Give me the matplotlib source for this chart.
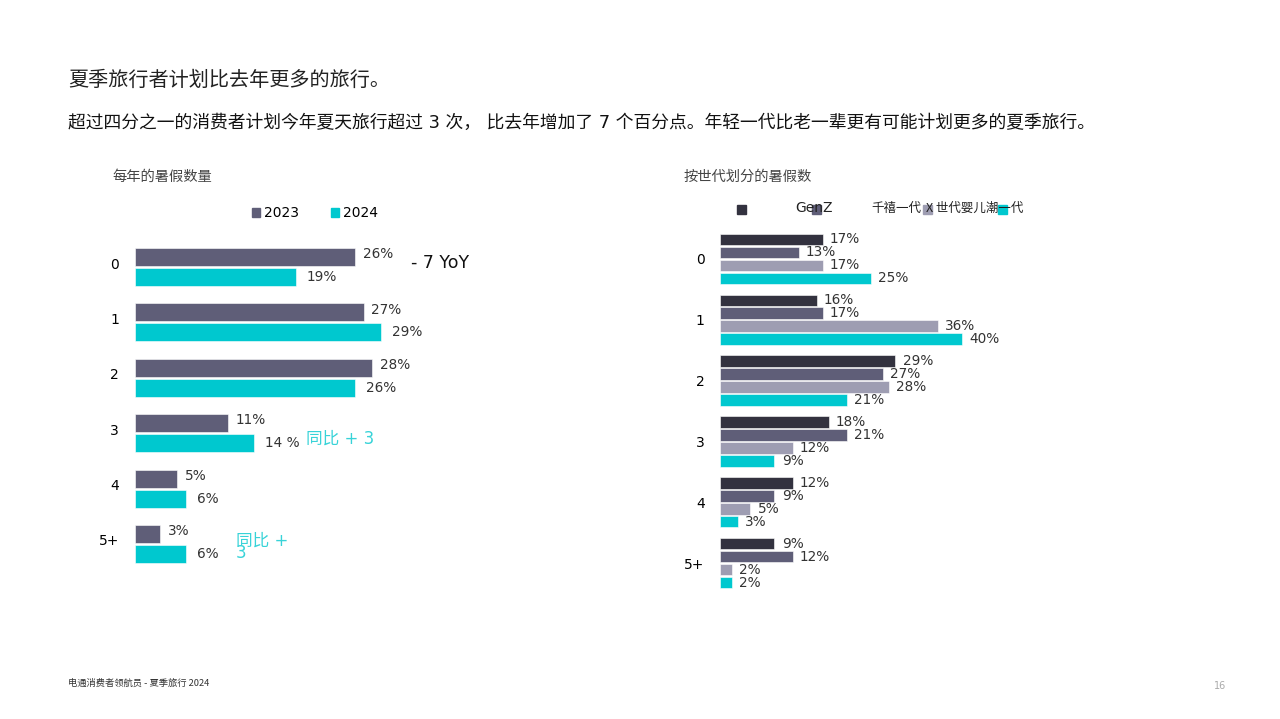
import matplotlib.pyplot as plt
from matplotlib.patches import Patch, Rectangle
from matplotlib.transforms import ScaledTranslation

plt.rcParams['font.family'] = ['DejaVu Sans', 'Noto Sans CJK SC']

# left chart: trips per year
cats = ['0', '1', '2', '3', '4', '5+']
y2023 = [26, 27, 28, 11, 5, 3]
y2024 = [19, 29, 26, 14, 6, 6]
lbl2023 = ['26%', '27%', '28%', '11%', '5%', '3%']
lbl2024 = ['19%', '29%', '26%', '14 %', '6%', '6%']

# right chart: by generation
gen_names = ['GenZ', '千禧一代', 'X 世代', '婴儿潮一代']
genz = [17, 16, 29, 18, 12, 9]
millennial = [13, 17, 27, 21, 9, 12]
genx = [17, 36, 28, 12, 5, 2]
boomer = [25, 40, 21, 9, 3, 2]

c_dark = '#33323f'
c_mid = '#5f5e78'
c_light = '#9e9db2'
c_cyan = '#00c8cf'
txt = '#333333'
cjk = ['Noto Sans CJK SC', 'DejaVu Sans']

W, H = 1280, 719
fig = plt.figure(figsize=(12.8, 7.19), dpi=100)


def fx(px):
    return px / W


def fy(py):
    return 1 - py / H


# headers
fig.text(fx(68), fy(80), '夏季旅行者计划比去年更多的旅行。', fontsize=14.5,
         color='#222222', va='center', family=cjk)
fig.text(fx(68), fy(123), '超过四分之一的消费者计划今年夏天旅行超过 3 次， 比去年增加了 7 个百分点。'
         '年轻一代比老一辈更有可能计划更多的夏季旅行。', fontsize=12.8, color='#111111',
         va='center')
fig.text(fx(112), fy(177), '每年的暑假数量', fontsize=10.3, color='#444444', va='center',
         family=cjk)
fig.text(fx(684), fy(177), '按世代划分的暑假数', fontsize=10.3, color='#444444', va='center',
         family=cjk)
fig.text(fx(68), fy(683), '电通消费者领航员 - 夏季旅行 2024', fontsize=6.7, color='#333333',
         va='center', family=cjk)
fig.text(fx(1226), fy(686), '16', fontsize=7, color='#aaaaaa', va='center', ha='right')

# ---- left chart
ax1 = fig.add_axes([fx(135), fy(577.2), 339 / W, 343.4 / H])
pos = list(range(len(cats)))
off, hgt = 0.18, 0.325
ax1.barh([p - off for p in pos], y2023, height=hgt, color=c_mid,
         edgecolor='white', linewidth=0.4)
ax1.barh([p + off for p in pos], y2024, height=hgt, color=c_cyan,
         edgecolor='white', linewidth=0.4)
for i in pos:
    ax1.text(y2023[i] + 0.9, i - off - 0.05, lbl2023[i], fontsize=9.8, color=txt, va='center')
    ax1.text(y2024[i] + 1.3, i + off, lbl2024[i], fontsize=9.8, color=txt, va='center')
ax1.set_xlim(0, 40)
ax1.set_ylim(5.6, -0.6)
ax1.set_yticks(pos)
ax1.set_yticklabels(cats, fontsize=10)
ax1.set_xticks([])
ax1.tick_params(axis='y', length=0, pad=11.5)
# labels sit a little above the group centre in the original
shift = ScaledTranslation(0, 4 / 100, fig.dpi_scale_trans)
for lab in ax1.get_yticklabels():
    lab.set_transform(lab.get_transform() + shift)
for s in ax1.spines.values():
    s.set_visible(False)

ax1.text(32.6, -0.07, '- 7 YoY', fontsize=12.5, color='#111111', va='center')
ax1.text(20.2, 3.1, '同比 + 3', fontsize=12, color='#38d3d8', va='center')
ax1.text(11.9, 5.05, '同比 +\n3', fontsize=12, color='#38d3d8', va='center',
         linespacing=0.55)

fig.legend(handles=[Patch(color=c_mid), Patch(color=c_cyan)], labels=['2023', '2024'],
           loc='center left', bbox_to_anchor=(fx(252), fy(213)), frameon=False,
           ncol=2, fontsize=10, handlelength=0.6, handleheight=0.6, handletextpad=0.25,
           columnspacing=2.3, borderpad=0, borderaxespad=0)

# ---- right chart
ax2 = fig.add_axes([fx(720), fy(599.6), 272 / W, 377.2 / H])
series = [genz, millennial, genx, boomer]
colors = [c_dark, c_mid, c_light, c_cyan]
step, bh = 0.213, 0.19
for k, (vals, col) in enumerate(zip(series, colors)):
    o = (k - 1.5) * step
    ax2.barh([p + o for p in pos], vals, height=bh, color=col, edgecolor='white', linewidth=0.4)
    for i in pos:
        ax2.text(vals[i] + 1.2, i + o, f'{vals[i]}%', fontsize=9.8, color=txt, va='center')
ax2.set_xlim(0, 45)
ax2.set_ylim(5.6, -0.6)
ax2.set_yticks(pos)
ax2.set_yticklabels(cats, fontsize=10)
ax2.set_xticks([])
ax2.tick_params(axis='y', length=0, pad=11)
for s in ax2.spines.values():
    s.set_visible(False)

# right legend (markers and labels are offset in the original)
marker_x = [737, 812, 923, 998]
for mx, col in zip(marker_x, colors):
    fig.patches.append(Rectangle((fx(mx), fy(214)), 9 / W, 9 / H, color=col,
                                 transform=fig.transFigure))
fig.text(fx(795), fy(208), gen_names[0], fontsize=10, color='#222222', va='center')
fig.text(fx(871), fy(208), gen_names[1], fontsize=9, color='#222222', va='center',
         family=cjk)
fig.text(fx(926), fy(208), gen_names[2] + gen_names[3], fontsize=9, color='#222222',
         va='center', family=cjk)

fig.savefig('out.png', dpi=100)
